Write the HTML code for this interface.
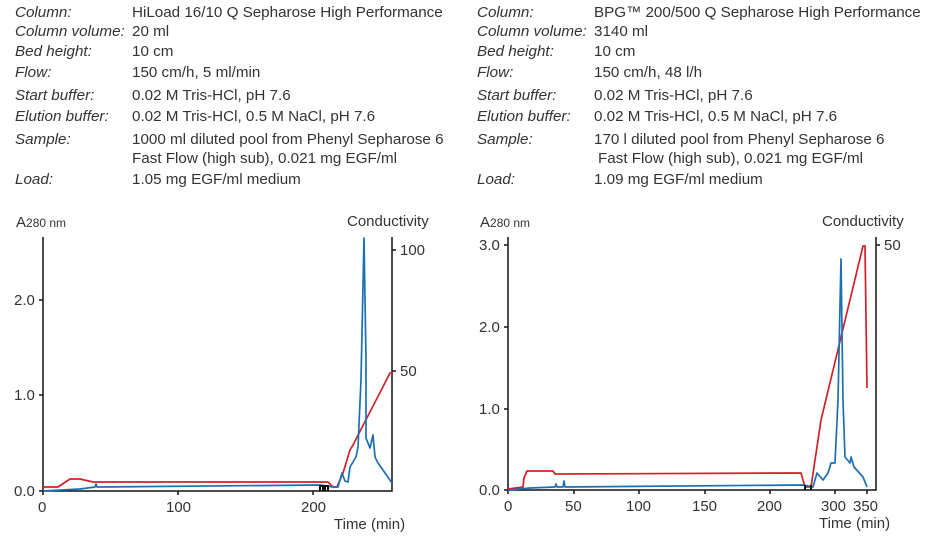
<!DOCTYPE html><html><head><style>
body{margin:0;background:#fff;width:936px;height:549px;overflow:hidden;font-family:"Liberation Sans",sans-serif;color:#333}
.t{position:absolute;font-size:15.2px;white-space:nowrap}
.i{font-style:italic}
svg{position:absolute;left:0;top:0}
</style></head><body>
<div class="t i" style="left:15px;top:4px">Column:</div><div class="t" style="left:132px;top:4px">HiLoad 16/10 Q Sepharose High Performance</div>
<div class="t i" style="left:15px;top:23px">Column volume:</div><div class="t" style="left:132px;top:23px">20 ml</div>
<div class="t i" style="left:15px;top:43px">Bed height:</div><div class="t" style="left:132px;top:43px">10 cm</div>
<div class="t i" style="left:15px;top:64px">Flow:</div><div class="t" style="left:132px;top:64px">150 cm/h, 5 ml/min</div>
<div class="t i" style="left:15px;top:87px">Start buffer:</div><div class="t" style="left:132px;top:87px">0.02 M Tris-HCl, pH 7.6</div>
<div class="t i" style="left:15px;top:108px">Elution buffer:</div><div class="t" style="left:132px;top:108px">0.02 M Tris-HCl, 0.5 M NaCl, pH 7.6</div>
<div class="t i" style="left:15px;top:131px">Sample:</div><div class="t" style="left:132px;top:131px">1000 ml diluted pool from Phenyl Sepharose 6</div>
<div class="t" style="left:132px;top:150px">Fast Flow (high sub), 0.021 mg EGF/ml</div>
<div class="t i" style="left:15px;top:171px">Load:</div><div class="t" style="left:132px;top:171px">1.05 mg EGF/ml medium</div>

<div class="t i" style="left:477px;top:4px">Column:</div><div class="t" style="left:594px;top:4px">BPG™ 200/500 Q Sepharose High Performance</div>
<div class="t i" style="left:477px;top:23px">Column volume:</div><div class="t" style="left:594px;top:23px">3140 ml</div>
<div class="t i" style="left:477px;top:43px">Bed height:</div><div class="t" style="left:594px;top:43px">10 cm</div>
<div class="t i" style="left:477px;top:64px">Flow:</div><div class="t" style="left:594px;top:64px">150 cm/h, 48 l/h</div>
<div class="t i" style="left:477px;top:87px">Start buffer:</div><div class="t" style="left:594px;top:87px">0.02 M Tris-HCl, pH 7.6</div>
<div class="t i" style="left:477px;top:108px">Elution buffer:</div><div class="t" style="left:594px;top:108px">0.02 M Tris-HCl, 0.5 M NaCl, pH 7.6</div>
<div class="t i" style="left:477px;top:131px">Sample:</div><div class="t" style="left:594px;top:131px">170 l diluted pool from Phenyl Sepharose 6</div>
<div class="t" style="left:598px;top:150px">Fast Flow (high sub), 0.021 mg EGF/ml</div>
<div class="t i" style="left:477px;top:171px">Load:</div><div class="t" style="left:594px;top:171px">1.09 mg EGF/ml medium</div>

<svg width="936" height="549" font-family="Liberation Sans, sans-serif" font-size="15" fill="#333">
<g stroke="#111" stroke-width="1.5" fill="none">
<path d="M43,237V491H392V237M39,491H43M39,395H43M39,300H43M43,491v4M178,491v4M313,491v4M392,250h4M392,371h4"/>
<path d="M508,237V490H876V237M504,490H508M504,409H508M504,327H508M504,245H508M508,490v4M574,490v4M639,490v4M705,490v4M770,490v4M835,490v4M867,490v4M876,245h4"/>
</g>
<text x="16" y="227">A<tspan font-size="12">280 nm</tspan></text>
<text x="347" y="226">Conductivity</text>
<text x="14" y="496">0.0</text><text x="14" y="400">1.0</text><text x="14" y="305">2.0</text>
<text x="400" y="255">100</text><text x="400" y="376">50</text>
<text x="38" y="512">0</text><text x="166" y="512">100</text><text x="301" y="512">200</text>
<text x="334" y="529">Time (min)</text>
<text x="480" y="227">A<tspan font-size="12">280 nm</tspan></text>
<text x="822" y="226">Conductivity</text>
<text x="479" y="495">0.0</text><text x="479" y="414">1.0</text><text x="479" y="332">2.0</text><text x="479" y="250">3.0</text>
<text x="884" y="250">50</text>
<text x="504" y="511">0</text><text x="565" y="511">50</text><text x="626" y="511">100</text><text x="692" y="511">150</text><text x="757" y="511">200</text><text x="821" y="511">300</text><text x="853" y="511">350</text>
<text x="819" y="528">Time (min)</text>
<g fill="none" stroke-width="1.7" stroke-linejoin="round">
<path stroke="#d0212a" d="M43,487L58,487L70,479L80,479L93,482L328,482L333,487L337,487L343,473L350,450L353,445L390,373L393,372"/>
<path stroke="#1c6fb3" d="M43,491L80,489L95,487L96,484L97,487L320,485L333,487L338,487L342,473L345,481L348,482L350,467L356,457L358,447L361,380L364,238L366,360L366,438L370,448L373,435L375,457L378,463L392,483"/>
<path stroke="#d0212a" d="M508,489L523,487L524,478L527,471L553,471L555,474L801,473L805,487L811,487L821,420L863,246L865,246L867,388"/>
<path stroke="#1c6fb3" d="M508,490L530,488L555,487L556,484L557,487L563,487L564,481L565,487L803,485L813,487L817,473L823,480L828,473L831,463L835,463L838,400L841,259L843,400L845,457L850,463L851,457L854,467L863,477L867,487"/>
</g>
<path stroke="#111" stroke-width="2" fill="none" d="M320,491v-5h3v5M325,491v-5h3v5M805,490v-5M811,490v-5"/>
</svg>
</body></html>
